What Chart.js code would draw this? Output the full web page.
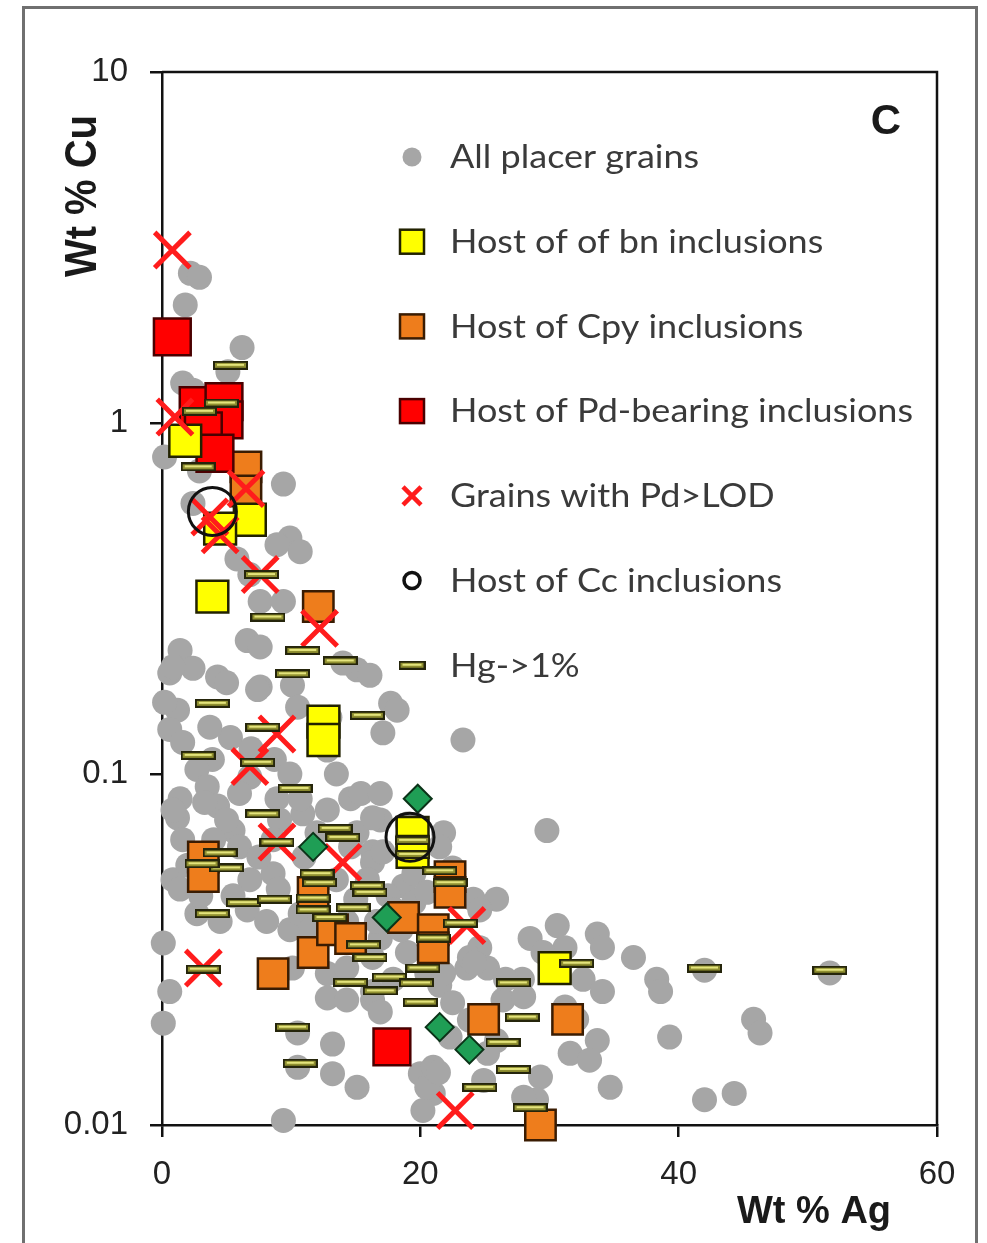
<!DOCTYPE html>
<html>
<head>
<meta charset="utf-8">
<script src="https://cdn.jsdelivr.net/npm/chart.js@4.4.0/dist/chart.umd.min.js"></script>
<style>
html,body{margin:0;padding:0;background:#fff;}
canvas{display:block;}
</style>
</head>
<body>
<canvas id="c" width="987" height="1243"></canvas>
<script>
// ---------------- data (Wt % Ag, Wt % Cu) ----------------
const xTickValues = [0, 20, 40, 60];
const yTickValues = [0.01, 0.1, 1, 10];
const xTitle = 'Wt % Ag';
const yTitle = 'Wt % Cu';
const panelLetter = 'C';

const allGrains = [
[2.2,2.67],[2.9,2.6],[1.8,2.17],[6.2,1.64],[5.1,1.40],[1.6,1.30],[2.4,1.24],
[0.2,0.80],[2.9,0.73],[9.4,0.67],[2.4,0.59],[9.9,0.47],[10.7,0.43],[8.9,0.45],[5.8,0.41],[6.8,0.37],[7.6,0.31],[9.4,0.31],
[6.6,0.24],[7.6,0.23],[1.4,0.225],[0.6,0.194],[2.4,0.20],[4.3,0.189],[7.6,0.177],[10.1,0.179],[15.1,0.198],[16.1,0.191],[0.85,0.202],[5.0,0.182],[7.4,0.174],[14.0,0.207],
[10.5,0.155],[17.7,0.159],[18.2,0.152],[23.3,0.125],[17.1,0.131],[1.2,0.152],[0.6,0.134],[5.3,0.127],[3.7,0.136],[1.6,0.123],[0.2,0.16],[3.9,0.11],[6.9,0.118],[8.7,0.11],
[2.7,0.103],[3.5,0.092],[1.4,0.085],[1.2,0.075],[4.3,0.081],[5.5,0.069],[6.8,0.098],[8.9,0.085],[9.9,0.100],[10.9,0.077],[13.5,0.100],[14.6,0.085],[15.1,0.068],[16.9,0.074],[16.3,0.060],[21.8,0.068],[12.8,0.117],[13.0,0.145],[12.0,0.068],
[0.85,0.079],[3.3,0.083],[1.6,0.065],[5.0,0.074],[6.0,0.088],[9.1,0.074],[10.7,0.085],[12.8,0.079],[15.4,0.088],[16.3,0.075],[16.9,0.088],[19.0,0.072],
[0.85,0.050],[1.4,0.047],[2.7,0.040],[4.5,0.038],[6.6,0.041],[6.8,0.050],[8.6,0.052],[8.1,0.038],[9.9,0.036],[10.7,0.040],[8.6,0.065],[6.0,0.062],[14.6,0.062],[16.3,0.056],[15.9,0.050],[16.9,0.034],[16.3,0.030],[19.0,0.031],[21.5,0.062],[22.5,0.054],[24.1,0.044],[24.6,0.032],[23.6,0.028],[21.5,0.025],[12.8,0.027],[10.1,0.028],[14.3,0.038],[14.3,0.028],[17.9,0.026],[20.5,0.027],[12.8,0.023],[16.3,0.0227],
[0.1,0.033],[0.6,0.024],[0.1,0.0195],[9.4,0.0103],[13.2,0.017],[13.2,0.014],[15.1,0.0128],[10.5,0.0183],[10.5,0.0146],[14.3,0.0227],[16.3,0.024],[16.9,0.021],[20.0,0.014],[21.0,0.0123],[20.2,0.011],[20.5,0.0128],[22.3,0.0178],[22.5,0.0223],[21.8,0.027],[23.8,0.0199],[24.9,0.0134],[25.9,0.0174],[25.2,0.016],
[16.6,0.038],[18.7,0.048],[17.1,0.060],[22.1,0.051],[29.8,0.069],[25.9,0.044],[24.6,0.041],[30.6,0.037],[28.5,0.034],[33.7,0.035],[34.1,0.032],[36.5,0.030],[38.3,0.026],[38.6,0.024],[23.8,0.030],[25.2,0.028],[26.4,0.0227],[27.9,0.026],[32.6,0.026],[34.1,0.024],[32.1,0.020],[33.7,0.0174],[31.6,0.016],[33.1,0.0153],[34.7,0.0128],[29.3,0.0137],[29.0,0.0118],[21.0,0.0146],[31.2,0.032],[29.5,0.031],[24.2,0.029],[26.6,0.026],[28.0,0.0232],[31.2,0.0217],[21.4,0.0141],[28.0,0.012],[42.0,0.0276],[51.7,0.0271],[45.8,0.020],[46.3,0.0183],[39.3,0.0178],[42.0,0.0118],[44.3,0.0123],
[17.5,0.045],[19.5,0.043],[18.5,0.036],[15.0,0.044],[11.5,0.036],[9.0,0.047],[7.5,0.058],[5.5,0.045],[3.0,0.045],[2.0,0.055],[4.0,0.065],[11.0,0.058],[13.5,0.050],[19.5,0.052],[20.5,0.046],[18.0,0.041]
];

const bnHosts = [
[1.8,0.89],[6.8,0.53],[4.5,0.50],[3.9,0.32],[12.5,0.141],[12.5,0.125],[19.4,0.068],[19.4,0.060],[30.4,0.028]
];

const cpyHosts = [
[6.5,0.75],[6.5,0.64],[12.1,0.30],[3.2,0.058],[3.2,0.051],[8.6,0.027],[11.7,0.031],[13.2,0.036],[14.6,0.034],[11.7,0.046],[18.7,0.039],[21.0,0.036],[21.0,0.032],[22.3,0.051],[22.3,0.046],[24.9,0.020],[31.4,0.020],[29.3,0.010]
];

const pdHosts = [
[0.8,1.76],[2.8,1.12],[4.8,1.15],[4.8,1.02],[3.2,0.95],[4.1,0.82],[17.8,0.0167]
];

const pdAboveLod = [
[0.8,3.11],[1.0,1.04],[3.7,0.54],[4.5,0.48],[6.5,0.65],[7.6,0.37],[12.2,0.26],[8.9,0.13],[6.8,0.105],[8.9,0.064],[14.0,0.056],[3.2,0.028],[23.6,0.037],[22.7,0.011]
];

const ccHosts = [
[3.9,0.56],[19.2,0.066]
];

const hgAbove1 = [
[5.3,1.46],[4.6,1.14],[2.9,1.08],[2.8,0.75],[7.7,0.37],[8.2,0.28],[10.9,0.225],[13.8,0.21],[10.1,0.193],[3.9,0.159],[15.9,0.147],[7.8,0.136],[2.8,0.113],[7.4,0.108],[10.3,0.091],[7.8,0.077],[13.4,0.070],[14.0,0.066],
[4.5,0.0596],[5.0,0.054],[3.1,0.0555],[8.9,0.064],[12.0,0.052],[12.2,0.049],[15.9,0.048],[16.1,0.046],[6.3,0.043],[8.7,0.044],[3.9,0.040],[11.7,0.0443],[11.7,0.041],[14.8,0.0416],[13.0,0.039],[15.6,0.0326],[16.1,0.030],
[21.5,0.053],[22.3,0.049],[21.0,0.0341],[23.1,0.0376],[3.2,0.0278],[14.6,0.0255],[16.9,0.0241],[17.6,0.0264],[19.7,0.0254],[20.2,0.028],[20.0,0.0224],[10.1,0.019],[10.7,0.015],
[27.2,0.0254],[27.9,0.0203],[26.4,0.0172],[27.2,0.0144],[24.6,0.0128],[28.5,0.0112],[32.1,0.0289],[42.0,0.028],[51.7,0.0276],[19.4,0.0647],[19.4,0.059]
];

const otherGrains = [
[19.8,0.085],[11.7,0.062],[17.4,0.039],[21.5,0.019],[23.8,0.0164]
];

// ---------------- helpers ----------------
const pts = arr => arr.map(p => ({x: p[0], y: p[1]}));

function makeBar(w, h) {
  const c = document.createElement('canvas');
  c.width = w; c.height = h;
  const g = c.getContext('2d');
  g.fillStyle = '#25250b'; g.fillRect(0, 0, w, h);
  g.fillStyle = '#8f8f30'; g.fillRect(2, 2, w - 4, h - 4);
  g.fillStyle = '#e4e47c'; g.fillRect(4, Math.floor(h / 2) - 1, w - 8, 2);
  return c;
}
const barImg = makeBar(35, 9);
const barLegendImg = makeBar(27, 9);

const COL = {
  gray: '#a6a6a6',
  yellow: '#ffff00', yellowEdge: '#222200',
  orange: '#ee7d1c', orangeEdge: '#3a1c02',
  red: '#ff0000', redEdge: '#4a0000',
  cross: '#ff1c1c',
  ring: '#111111',
  green: '#1f9e55', greenEdge: '#0b3318'
};

// ---------------- plugins ----------------
const framePlugin = {
  id: 'frame',
  beforeDraw(chart) {
    const ctx = chart.ctx;
    ctx.save();
    ctx.fillStyle = '#ffffff';
    ctx.fillRect(0, 0, chart.width, chart.height);
    ctx.strokeStyle = '#707070';
    ctx.lineWidth = 3;
    ctx.strokeRect(23.5, 7.5, 953, 1300);
    ctx.restore();
  },
  beforeDatasetsDraw(chart) {
    const a = chart.chartArea, ctx = chart.ctx;
    ctx.save();
    ctx.strokeStyle = '#111';
    ctx.lineWidth = 2.5;
    ctx.beginPath();
    ctx.moveTo(a.left, a.top); ctx.lineTo(a.right, a.top); ctx.lineTo(a.right, a.bottom);
    ctx.stroke();
    ctx.restore();
  }
};

const textPlugin = {
  id: 'texts',
  afterDraw(chart) {
    const ctx = chart.ctx;
    ctx.save();
    ctx.fillStyle = '#1a1a1a';
    // y title
    ctx.font = 'bold 44px "Liberation Sans", Arial, sans-serif';
    ctx.textAlign = 'center';
    ctx.textBaseline = 'alphabetic';
    ctx.save();
    ctx.translate(96, 196);
    ctx.rotate(-Math.PI / 2);
    ctx.fillText(yTitle, 0, 0, 162);
    ctx.restore();
    // x title
    ctx.font = 'bold 38px "Liberation Sans", Arial, sans-serif';
    ctx.fillText(xTitle, 814, 1223, 158);
    // panel letter
    ctx.font = 'bold 42px "Liberation Sans", Arial, sans-serif';
    ctx.textBaseline = 'middle';
    ctx.fillText(panelLetter, 886, 122);
    ctx.restore();
  }
};

const legendPlugin = {
  id: 'insideLegend',
  afterDraw(chart) {
    const ctx = chart.ctx;
    const items = chart.data.datasets.filter(d => d.label);
    const mx = 412, tx = 450, y0 = 157, dy = 84.7;
    ctx.save();
    ctx.font = '32px Lato, "Open Sans", sans-serif';
    const longest = items.reduce((m, d) => Math.max(m, ctx.measureText(d.label).width), 0);
    const sx = 463 / longest;
    ctx.textBaseline = 'middle';
    ctx.textAlign = 'left';
    items.forEach((d, i) => {
      const y = y0 + i * dy;
      const kind = d.legendKind;
      ctx.save();
      if (kind === 'dot') {
        ctx.fillStyle = d.pointBackgroundColor;
        ctx.beginPath(); ctx.arc(mx, y, 9.5, 0, Math.PI * 2); ctx.fill();
      } else if (kind === 'square') {
        ctx.fillStyle = d.pointBackgroundColor;
        ctx.strokeStyle = d.pointBorderColor;
        ctx.lineWidth = 2.5;
        ctx.fillRect(mx - 12, y - 12, 24, 24);
        ctx.strokeRect(mx - 12, y - 12, 24, 24);
      } else if (kind === 'cross') {
        ctx.strokeStyle = d.pointBorderColor;
        ctx.lineWidth = 4.5;
        ctx.beginPath();
        ctx.moveTo(mx - 9, y - 9); ctx.lineTo(mx + 9, y + 9);
        ctx.moveTo(mx + 9, y - 9); ctx.lineTo(mx - 9, y + 9);
        ctx.stroke();
      } else if (kind === 'ring') {
        ctx.strokeStyle = d.pointBorderColor;
        ctx.lineWidth = 3.5;
        ctx.beginPath(); ctx.arc(mx, y, 8, 0, Math.PI * 2); ctx.stroke();
      } else if (kind === 'bar') {
        ctx.drawImage(barLegendImg, mx - barLegendImg.width / 2, y - barLegendImg.height / 2);
      }
      ctx.restore();
      ctx.save();
      ctx.translate(tx, y + 1);
      ctx.scale(sx, 1);
      ctx.fillStyle = '#3a3a3a';
      ctx.fillText(d.label, 0, 0);
      ctx.restore();
    });
    ctx.restore();
  }
};

// ---------------- chart ----------------
new Chart(document.getElementById('c'), {
  type: 'scatter',
  data: {
    datasets: [
      {label: 'All placer grains', legendKind: 'dot', data: pts(allGrains), pointStyle: 'circle', pointRadius: 12.5,
       pointBackgroundColor: COL.gray, pointBorderColor: COL.gray, pointBorderWidth: 0, order: 9, clip: false},
      {label: 'Host of of bn inclusions', legendKind: 'square', data: pts(bnHosts), pointStyle: 'rect', pointRadius: 22.5,
       pointBackgroundColor: COL.yellow, pointBorderColor: COL.yellowEdge, pointBorderWidth: 2.5, order: 5, clip: false},
      {label: 'Host of Cpy inclusions', legendKind: 'square', data: pts(cpyHosts), pointStyle: 'rect', pointRadius: 21.5,
       pointBackgroundColor: COL.orange, pointBorderColor: COL.orangeEdge, pointBorderWidth: 2.5, order: 7, clip: false},
      {label: 'Host of Pd-bearing inclusions', legendKind: 'square', data: pts(pdHosts), pointStyle: 'rect', pointRadius: 26,
       pointBackgroundColor: COL.red, pointBorderColor: COL.redEdge, pointBorderWidth: 2.5, order: 6, clip: false},
      {label: 'Grains with Pd>LOD', legendKind: 'cross', data: pts(pdAboveLod), pointStyle: 'crossRot', pointRadius: 25,
       pointBackgroundColor: COL.cross, pointBorderColor: COL.cross, pointBorderWidth: 5, order: 3, clip: false},
      {label: 'Host of Cc inclusions', legendKind: 'ring', data: pts(ccHosts), pointStyle: 'circle', pointRadius: 24,
       pointBackgroundColor: 'rgba(0,0,0,0)', pointBorderColor: COL.ring, pointBorderWidth: 3, order: 0, clip: false},
      {label: 'Hg->1%', legendKind: 'bar', data: pts(hgAbove1), pointStyle: barImg, pointRadius: 12,
       pointBackgroundColor: '#8f8f30', pointBorderColor: '#25250b', pointBorderWidth: 0, order: 2, clip: false},
      {label: '', data: pts(otherGrains), pointStyle: 'rectRot', pointRadius: 14,
       pointBackgroundColor: COL.green, pointBorderColor: COL.greenEdge, pointBorderWidth: 2, order: 1, clip: false}
    ]
  },
  options: {
    responsive: false,
    animation: false,
    events: [],
    showLine: false,
    layout: {padding: {top: 72, right: 50, left: 0, bottom: 0}},
    plugins: {legend: {display: false}, tooltip: {enabled: false}, title: {display: false}},
    scales: {
      x: {
        type: 'linear', min: 0, max: 60,
        afterBuildTicks: s => { s.ticks = xTickValues.map(v => ({value: v})); },
        afterFit: s => { s.height = 118; },
        border: {display: true, color: '#111', width: 2.5},
        grid: {drawOnChartArea: false, drawTicks: true, tickLength: 12, color: '#111', lineWidth: 2.5},
        ticks: {padding: 18, color: '#222', font: {family: '"Liberation Sans", Arial, sans-serif', size: 33},
                callback: v => String(v), maxRotation: 0}
      },
      y: {
        type: 'logarithmic', min: 0.01, max: 10,
        afterBuildTicks: s => { s.ticks = yTickValues.map(v => ({value: v})); },
        afterFit: s => { s.width = 162; },
        border: {display: true, color: '#111', width: 2.5},
        grid: {drawOnChartArea: false, drawTicks: true, tickLength: 12, color: '#111', lineWidth: 2.5},
        ticks: {padding: 22, color: '#222', font: {family: '"Liberation Sans", Arial, sans-serif', size: 33},
                callback: v => String(v)}
      }
    }
  },
  plugins: [framePlugin, textPlugin, legendPlugin]
});
</script>
</body>
</html>
